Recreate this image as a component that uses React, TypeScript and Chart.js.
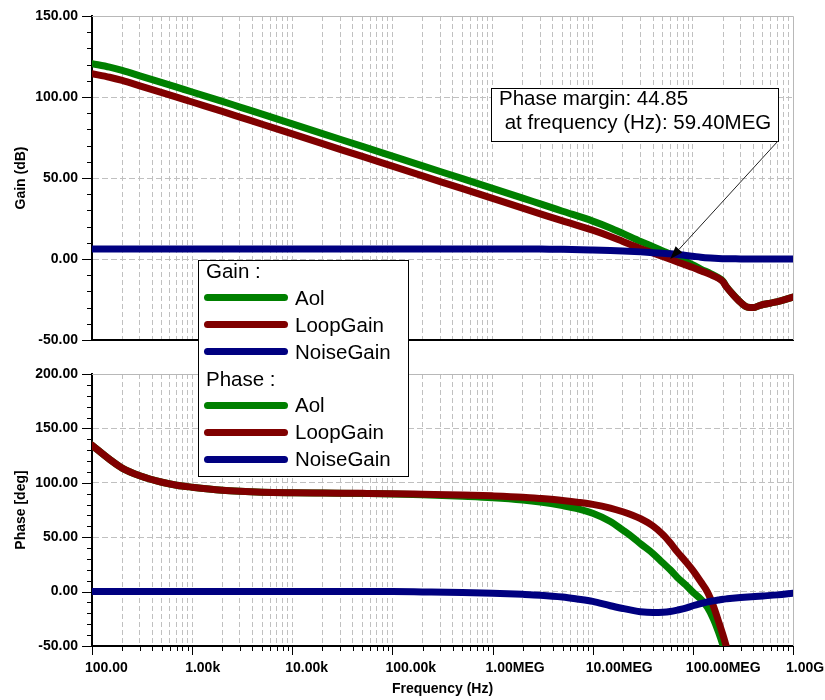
import React, { useEffect, useRef } from 'react';
import { Chart, registerables } from 'chart.js';

Chart.register(...registerables);

// ---------- data ----------
const freqGain = [100, 150, 200, 300, 500, 700, 1e3, 2e3, 3e3, 5e3, 1e4, 2e4, 5e4, 1e5, 2e5, 5e5, 1e6, 2e6, 3e6, 5e6, 1e7, 1.5e7, 2e7, 3e7, 4e7, 5e7, 5.94e7, 7e7, 1e8, 1.2e8, 1.5e8, 1.8e8, 2e8, 2.15e8, 2.5e8, 3e8, 3.5e8, 4e8, 4.7e8, 6e8, 7.5e8, 1e9];
const gainAol = [120.6, 118.4, 116.4, 113.1, 108.9, 106.1, 103.1, 97.3, 93.8, 89.4, 83.4, 77.4, 69.5, 63.5, 57.5, 49.6, 43.6, 37.6, 34.0, 29.5, 23.4, 19.2, 15.8, 10.9, 7.6, 5.0, 3.0, 1.0, -3.6, -6.2, -9.0, -11.6, -13.8, -16.85, -21.7, -26.75, -29.7, -30.0, -28.6, -27.2, -25.9, -23.5];
const gainLoop = [114.4, 112.2, 110.2, 106.9, 102.7, 99.9, 96.9, 91.1, 87.6, 83.2, 77.2, 71.2, 63.3, 57.3, 51.3, 43.4, 37.4, 31.4, 27.9, 23.5, 17.8, 13.9, 10.8, 6.5, 3.7, 1.5, -0.2, -1.8, -5.3, -7.3, -9.6, -11.9, -14.0, -17.0, -21.8, -26.8, -29.7, -30.0, -28.6, -27.2, -25.9, -23.5];
const gainNoise = [6.2, 6.2, 6.2, 6.2, 6.2, 6.2, 6.2, 6.2, 6.2, 6.2, 6.2, 6.2, 6.2, 6.2, 6.2, 6.2, 6.2, 6.2, 6.1, 6.0, 5.6, 5.3, 5.0, 4.4, 3.9, 3.5, 3.2, 2.8, 1.7, 1.1, 0.6, 0.3, 0.2, 0.15, 0.1, 0.05, 0, 0, 0, 0, 0, 0];

const freqPhase = [100, 150, 200, 300, 500, 700, 1e3, 2e3, 3e3, 5e3, 1e4, 2e4, 5e4, 1e5, 2e5, 5e5, 1e6, 2e6, 3e6, 5e6, 7e6, 1e7, 1.5e7, 2e7, 2.5e7, 3e7, 4e7, 5e7, 5.94e7, 7e7, 8.5e7, 1e8, 1.2e8, 1.4e8, 1.6e8, 1.8e8, 2e8, 2.2e8, 3e8, 5e8, 7e8, 1e9];
const phaseAol = [134.5, 121.5, 113.5, 106.5, 100.5, 97.8, 96.0, 93.2, 92.2, 91.4, 90.9, 90.6, 90.2, 89.8, 89.0, 87.6, 86.3, 84.2, 82.3, 79.0, 76.3, 72.0, 64.5, 56.5, 50.0, 44.0, 35.0, 26.5, 20.0, 13.0, 6.0, -0.5, -7.0, -14.5, -25.0, -37.0, -49.5, -63.0, null, null, null, null];
const phaseLoop = [134.5, 121.5, 113.5, 106.5, 100.5, 97.8, 96.0, 93.2, 92.2, 91.4, 90.9, 90.6, 90.3, 90.0, 89.5, 88.8, 88.0, 86.8, 85.6, 83.8, 82.2, 80.2, 76.8, 73.4, 70.2, 67.0, 60.3, 52.6, 44.85, 36.5, 27.5, 19.5, 9.0, -0.5, -13.0, -27.0, -40.0, -53.0, null, null, null, null];
const phaseNoise = [0, 0, 0, 0, 0, 0, 0, 0, 0, 0, 0, 0, 0, 0, -0.3, -0.8, -1.5, -2.5, -3.3, -5.0, -6.8, -9.0, -13.0, -15.5, -17.3, -18.5, -19.2, -19.0, -18.3, -17.0, -15.2, -13.0, -11.0, -9.5, -8.5, -7.7, -7.0, -6.6, -5.5, -4.0, -3.0, -1.5];

const freqTickLabels = ['100.00', '1.00k', '10.00k', '100.00k', '1.00MEG', '10.00MEG', '100.00MEG', '1.00G'];
const seriesNames = ['Aol', 'LoopGain', 'NoiseGain'];
const seriesColors = ['#008000', '#800000', '#000080'];
const pmValue = 44.85;
const pmFreq = 59.4e6;

// ---------- styling helpers ----------
const FONT = '"Liberation Sans", Arial, Helvetica, sans-serif';
const GRID = '#c0c0c0';
const tickFont = { family: FONT, size: 14, weight: 'bold' as const };

const xTickValues: number[] = [];
for (let e = 2; e <= 8; e++) for (let m = 1; m <= 9; m++) xTickValues.push(m * Math.pow(10, e));
xTickValues.push(1e9);

const isDecade = (v: number) => Math.abs(Math.log10(v) - Math.round(Math.log10(v))) < 1e-9;

function xScale(showLabels: boolean, height: number) {
  return {
    type: 'logarithmic',
    min: 100,
    max: 1e9,
    afterBuildTicks: (axis: any) => {
      axis.ticks = xTickValues.map((v) => ({ value: v, major: false }));
    },
    afterFit: (axis: any) => {
      axis.height = height;
      axis.paddingLeft = 0;
      axis.paddingRight = 0;
    },
    grid: {
      color: (c: any) => (c.index === 0 || c.index === xTickValues.length - 1 ? 'rgba(0,0,0,0)' : GRID),
      lineWidth: 1,
      drawTicks: false,
    },
    border: { display: true, color: '#000', width: 2, dash: [5, 3] },
    ticks: {
      display: showLabels,
      autoSkip: false,
      maxRotation: 0,
      minRotation: 0,
      align: 'start',
      labelOffset: -7,
      padding: 14,
      color: '#000',
      font: tickFont,
      callback: (v: any) => {
        const n = Number(v);
        return isDecade(n) ? freqTickLabels[Math.round(Math.log10(n)) - 2] : '';
      },
    },
    title: showLabels
      ? { display: true, text: 'Frequency (Hz)', color: '#000', font: tickFont, padding: { top: 0, bottom: 2 } }
      : { display: false },
  };
}

function yScale(min: number, max: number, title: string) {
  return {
    type: 'linear',
    min,
    max,
    afterFit: (axis: any) => {
      axis.width = 92;
      axis.paddingTop = 0;
      axis.paddingBottom = 0;
    },
    grid: {
      color: (c: any) => (c.tick && c.tick.value % 50 === 0 && c.tick.value !== min ? GRID : 'rgba(0,0,0,0)'),
      lineWidth: 1,
      drawTicks: false,
    },
    border: { display: true, color: '#000', width: 2, dash: [6, 3] },
    ticks: {
      stepSize: 10,
      autoSkip: false,
      padding: 14,
      color: '#000',
      font: tickFont,
      callback: (v: any) => (Number(v) % 50 === 0 ? Number(v).toFixed(2) : ''),
    },
    title: { display: true, text: title, color: '#000', font: tickFont, padding: { top: 12.5, bottom: 0 } },
  };
}

function dataset(label: string, freqs: number[], vals: (number | null)[], color: string, order: number) {
  return {
    label,
    data: freqs.map((f, i) => ({ x: f, y: vals[i] })),
    borderColor: color,
    backgroundColor: color,
    borderWidth: 7,
    pointRadius: 0,
    pointHoverRadius: 0,
    fill: false,
    cubicInterpolationMode: 'monotone',
    borderCapStyle: 'round',
    borderJoinStyle: 'round',
    spanGaps: false,
    order,
  };
}

const framePlugin = {
  id: 'frame',
  beforeDatasetsDraw(chart: any, _args: any, opts: any) {
    const { ctx, chartArea } = chart;
    const { left, right, top, bottom } = chartArea;
    ctx.save();
    ctx.strokeStyle = '#b8b8b8';
    ctx.lineWidth = 1;
    ctx.beginPath();
    ctx.moveTo(left, Math.round(top) + 0.5);
    ctx.lineTo(Math.round(right) + 0.5, Math.round(top) + 0.5);
    ctx.lineTo(Math.round(right) + 0.5, bottom);
    ctx.stroke();
    ctx.strokeStyle = '#000';
    ctx.beginPath();
    const ys = chart.scales.y;
    ys.ticks.forEach((t: any) => {
      const y = Math.round(ys.getPixelForValue(t.value)) + 0.5;
      const len = t.value % 50 === 0 ? 10 : 5;
      ctx.moveTo(left - len, y);
      ctx.lineTo(left, y);
    });
    if (opts && opts.xTicks) {
      const xs = chart.scales.x;
      xs.ticks.forEach((t: any) => {
        const x = Math.round(xs.getPixelForValue(t.value)) + 0.5;
        const len = isDecade(t.value) ? 9 : 5;
        ctx.moveTo(x, bottom);
        ctx.lineTo(x, bottom + len);
      });
    }
    ctx.stroke();
    ctx.restore();
  },
  afterDraw(chart: any, _args: any, opts: any) {
    if (!opts || !opts.annotate) return;
    const { ctx } = chart;
    const px = chart.scales.x.getPixelForValue(pmFreq);
    const py = chart.scales.y.getPixelForValue(0);
    const bx = 491, by = 88, bw = 287, bh = 53;
    ctx.save();
    ctx.fillStyle = '#fff';
    ctx.fillRect(bx, by, bw, bh);
    ctx.strokeStyle = '#000';
    ctx.lineWidth = 1;
    ctx.strokeRect(bx + 0.5, by + 0.5, bw, bh);
    ctx.fillStyle = '#000';
    ctx.font = `20.5px ${FONT}`;
    ctx.textAlign = 'left';
    ctx.textBaseline = 'alphabetic';
    ctx.fillText(`Phase margin: ${pmValue.toFixed(2)}`, 499, 105);
    ctx.fillText(` at frequency (Hz): ${(pmFreq / 1e6).toFixed(2)}MEG`, 499, 128.5);
    const sx = bx + bw, sy = by + bh;
    const ang = Math.atan2(py - sy, px - sx);
    const hl = 13, hw = 4.5;
    const hx = px - hl * Math.cos(ang), hy = py - hl * Math.sin(ang);
    ctx.strokeStyle = '#222';
    ctx.beginPath();
    ctx.moveTo(sx, sy);
    ctx.lineTo(hx, hy);
    ctx.stroke();
    ctx.beginPath();
    ctx.moveTo(px, py);
    ctx.lineTo(hx + hw * Math.sin(ang), hy - hw * Math.cos(ang));
    ctx.lineTo(hx - hw * Math.sin(ang), hy + hw * Math.cos(ang));
    ctx.closePath();
    ctx.fill();
    ctx.restore();
  },
};

function baseOptions(padTop: number, x: any, y: any, frame: any) {
  return {
    responsive: false,
    animation: false,
    events: [],
    layout: { padding: { top: padTop, right: 32, bottom: 0, left: 0 } },
    scales: { x, y },
    plugins: {
      legend: { display: false },
      tooltip: { enabled: false },
      frame,
    },
  };
}

export default function App() {
  const topRef = useRef<HTMLCanvasElement>(null);
  const botRef = useRef<HTMLCanvasElement>(null);

  useEffect(() => {
    Chart.defaults.font.family = FONT;
    Chart.defaults.color = '#000';
    const top = new Chart(topRef.current as HTMLCanvasElement, {
      type: 'line',
      data: {
        datasets: [
          dataset('Aol', freqGain, gainAol, seriesColors[0], 3),
          dataset('LoopGain', freqGain, gainLoop, seriesColors[1], 2),
          dataset('NoiseGain', freqGain, gainNoise, seriesColors[2], 1),
        ] as any,
      },
      options: baseOptions(16, xScale(false, 10), yScale(-50, 150, 'Gain (dB)'), { xTicks: false, annotate: true }) as any,
      plugins: [framePlugin as any],
    });
    const bot = new Chart(botRef.current as HTMLCanvasElement, {
      type: 'line',
      data: {
        datasets: [
          dataset('Aol', freqPhase, phaseAol, seriesColors[0], 3),
          dataset('LoopGain', freqPhase, phaseLoop, seriesColors[1], 2),
          dataset('NoiseGain', freqPhase, phaseNoise, seriesColors[2], 1),
        ] as any,
      },
      options: baseOptions(24, xScale(true, 54), yScale(-50, 200, 'Phase [deg]'), { xTicks: true, annotate: false }) as any,
      plugins: [framePlugin as any],
    });
    return () => {
      top.destroy();
      bot.destroy();
    };
  }, []);

  const legendRows: { header?: string; name?: string; color?: string }[] = [
    { header: 'Gain :' },
    ...seriesNames.map((n, i) => ({ name: n, color: seriesColors[i] })),
    { header: 'Phase :' },
    ...seriesNames.map((n, i) => ({ name: n, color: seriesColors[i] })),
  ];

  return (
    <div style={{ position: 'absolute', left: 0, top: 0, width: 825, height: 700, background: '#fff', overflow: 'hidden' }}>
      <canvas ref={topRef} width={825} height={350} style={{ position: 'absolute', left: 0, top: 0, width: 825, height: 350 }} />
      <canvas ref={botRef} width={825} height={350} style={{ position: 'absolute', left: 0, top: 350, width: 825, height: 350 }} />
      <div
        style={{
          position: 'absolute',
          left: 198,
          top: 260,
          width: 211,
          height: 217,
          boxSizing: 'border-box',
          border: '1px solid #000',
          background: '#fff',
          fontFamily: FONT,
          fontSize: 20.5,
          color: '#000',
        }}
      >
        {legendRows.map((r, i) => (
          <div
            key={i}
            style={{
              position: 'absolute',
              left: 0,
              right: 0,
              top: 9.7 + 26.95 * i - 13.5,
              height: 27,
              display: 'flex',
              alignItems: 'center',
              whiteSpace: 'nowrap',
            }}
          >
            {r.header ? (
              <span style={{ marginLeft: 7 }}>{r.header}</span>
            ) : (
              <>
                <span style={{ marginLeft: 4.5, width: 84, height: 7, borderRadius: 3.5, background: r.color, display: 'inline-block' }} />
                <span style={{ marginLeft: 7.5 }}>{r.name}</span>
              </>
            )}
          </div>
        ))}
      </div>
    </div>
  );
}
